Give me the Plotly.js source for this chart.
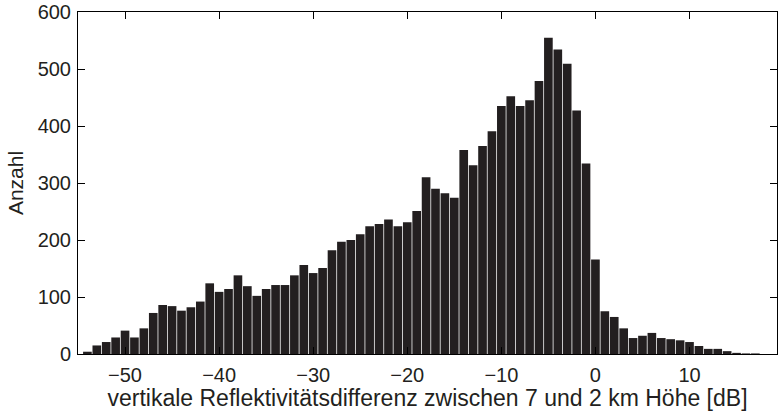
<!DOCTYPE html>
<html>
<head>
<meta charset="utf-8">
<script src="https://cdn.plot.ly/plotly-3.0.1.min.js"></script>
<style>
  html, body { margin: 0; padding: 0; background: #ffffff; }
  #chart { width: 778px; height: 411px; }
</style>
</head>
<body>
<div id="chart"></div>
<script>
// Histogram of the vertical reflectivity difference (1 dB bins, centred on integers)
const binCenters = [];
for (let c = -54; c <= 19; c++) binCenters.push(c);

const counts = [
  4, 15, 21, 29, 41, 29, 45, 72, 86, 84, 76, 82, 92, 124,
  109, 114, 138, 119, 102, 114, 121, 121, 138, 156, 142, 151, 182, 197, 200,
  210, 224, 228, 236, 224, 231, 251, 310, 290, 282, 274, 358, 331,
  365, 391, 435, 452, 435, 445, 479, 555, 534, 509, 427, 334, 166,
  75, 65, 45, 28, 32, 37, 28, 26, 24, 21, 14, 9, 9, 5, 2, 1, 1, 0, 0
];

const xTicks = [-50, -40, -30, -20, -10, 0, 10];
const xTickText = ['\u221250', '\u221240', '\u221230', '\u221220', '\u221210', '0', '10'];
const yTicks = [0, 100, 200, 300, 400, 500, 600];

const ink = '#231f20';
const family = 'Liberation Sans, Arial, Helvetica, sans-serif';
const tickFont = { family: family, size: 20, color: ink };
const xTitleFont = { family: family, size: 23, color: ink };
const yTitleFont = { family: family, size: 21, color: ink };

const trace = {
  type: 'bar',
  x: binCenters,
  y: counts,
  marker: { color: ink, line: { width: 0 } },
  hoverinfo: 'x+y'
};

const layout = {
  width: 778,
  height: 411,
  margin: { l: 78, r: 1, t: 12, b: 57, pad: 0 },
  paper_bgcolor: '#ffffff',
  plot_bgcolor: '#ffffff',
  bargap: 0.08,
  showlegend: false,
  font: tickFont,
  xaxis: {
    range: [-55, 19.3],
    tickvals: xTicks,
    ticktext: xTickText,
    ticks: 'inside',
    ticklen: 7,
    tickwidth: 1,
    tickcolor: '#000000',
    ticklabelstandoff: 3,
    showline: true,
    linecolor: '#000000',
    linewidth: 1,
    mirror: 'ticks',
    showgrid: false,
    zeroline: false,
    tickfont: tickFont,
    title: {
      text: 'vertikale Reflektivitätsdifferenz zwischen 7 und 2 km Höhe [dB]',
      font: xTitleFont,
      standoff: 0
    }
  },
  yaxis: {
    range: [0, 600],
    tickvals: yTicks,
    ticks: 'inside',
    ticklen: 7,
    tickwidth: 1,
    tickcolor: '#000000',
    ticklabelstandoff: 2,
    showline: true,
    linecolor: '#000000',
    linewidth: 1,
    mirror: 'ticks',
    showgrid: false,
    zeroline: false,
    tickfont: tickFont,
    title: {
      text: 'Anzahl',
      font: yTitleFont,
      standoff: 8
    }
  }
};

Plotly.newPlot('chart', [trace], layout, { displayModeBar: false, staticPlot: true });
</script>
</body>
</html>
